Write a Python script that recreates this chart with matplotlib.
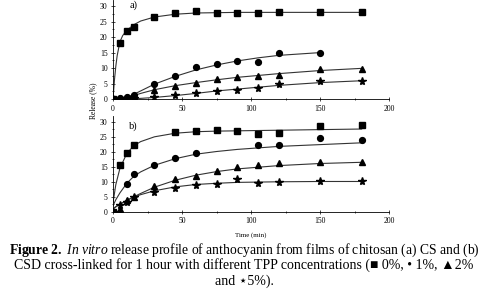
import matplotlib
matplotlib.use("Agg")
import matplotlib.pyplot as plt
from matplotlib.ticker import MultipleLocator

plt.rcParams['font.family'] = ['Liberation Serif', 'DejaVu Sans']
plt.rcParams['mathtext.fontset'] = 'custom'
plt.rcParams['mathtext.rm'] = 'Liberation Serif'
plt.rcParams['mathtext.it'] = 'Liberation Serif:italic'
plt.rcParams['mathtext.bf'] = 'Liberation Serif:bold'

# sampling times (min)
t_a = [0, 5, 10, 15, 30, 45, 60, 75, 90, 105, 120, 150, 180]
t_a1 = [0, 5, 10, 15, 30, 45, 60, 75, 90, 105, 120, 150]

# panel a) CS measured points
a_0 = [0, 18, 22, 23.3, 26.5, 27.8, 28.3, 27.8, 27.8, 27.8, 28.0, 28.0, 28.0]
a_1 = [0, 0.2, 0.8, 1.2, 5.0, 7.5, 10.2, 11.3, 12.2, 11.8, 14.8, 14.8]
a_2 = [0, 0, 0.5, 1.0, 3.0, 4.2, 5.2, 6.5, 7.0, 7.5, 7.9, 9.8, 9.6]
a_5 = [0, 0, 0.2, 0.3, 0.5, 1.2, 1.8, 2.7, 3.0, 3.6, 5.0, 5.7, 5.8]

# panel b) CSD measured points
t_b = [0, 5, 10, 15, 30, 45, 60, 75, 90, 105, 120, 150, 180]
t_b0 = [0, 5, 10, 15, 45, 60, 75, 90, 105, 120, 150, 180]
b_0 = [0, 15.6, 19.5, 22.3, 26.5, 26.9, 27.2, 27.1, 26.1, 26.3, 28.6, 29.0]
t_b1 = [0, 10, 15, 30, 45, 60, 105, 120, 150, 180]
b_1 = [0, 9.2, 12.5, 15.6, 18.0, 19.7, 22.2, 22.3, 24.5, 23.9]
b_2 = [0, 0.8, 3.9, 4.8, 8.6, 10.9, 12.0, 13.6, 14.8, 15.6, 16.1, 16.6, 16.6]
b_5 = [0, 2.2, 3.3, 5.0, 6.7, 7.8, 8.9, 9.2, 10.8, 9.7, 9.9, 10.3, 10.1]

# fitted curves
fa_t0 = [0, 1, 2, 3, 5, 7, 10, 15, 20, 30, 45, 60, 90, 120, 180]
fa_0 = [0, 6, 10.5, 14, 18.5, 20.5, 22.2, 24.0, 25.2, 26.5, 27.4, 27.8, 28.0, 28.0, 28.0]
fa_t1 = [0, 10, 15, 20, 30, 45, 60, 75, 90, 105, 120, 150]
fa_1 = [0, 0.5, 1.5, 2.6, 4.8, 7.3, 9.4, 11.0, 12.3, 13.3, 14.1, 15.0]
fa_t2 = [0, 10, 15, 20, 30, 45, 60, 75, 90, 105, 120, 150, 180]
fa_2 = [0, 0.4, 1.1, 1.8, 3.0, 4.3, 5.3, 6.2, 7.0, 7.6, 8.2, 9.2, 9.9]
fa_t5 = [0, 15, 20, 30, 45, 60, 75, 90, 105, 120, 150, 180]
fa_5 = [0, 0.1, 0.2, 0.5, 1.1, 1.8, 2.6, 3.2, 3.8, 4.4, 5.3, 5.9]

fb_t = [0, 2, 5, 10, 15, 20, 30, 45, 60, 75, 90, 120, 150, 180]
fb_0 = [3.0, 9.0, 14.5, 19.5, 22.0, 23.4, 25.0, 26.2, 26.7, 26.9, 27.0, 27.2, 27.4, 27.6]
fb_1 = [2.0, 4.0, 6.3, 9.5, 11.8, 13.3, 15.5, 17.7, 19.2, 20.1, 20.8, 21.8, 22.4, 23.0]
fb_2 = [1.0, 1.6, 2.5, 3.8, 5.0, 6.1, 8.2, 10.5, 12.2, 13.4, 14.3, 15.4, 16.1, 16.5]
fb_5 = [1.0, 1.7, 2.6, 3.8, 4.9, 5.7, 7.0, 8.3, 9.1, 9.5, 9.8, 10.0, 10.1, 10.1]

fig = plt.figure(figsize=(4.88, 2.97), dpi=100)
ax_a = fig.add_axes([0.2316, 0.6667, 0.566, 0.3333])
ax_b = fig.add_axes([0.2316, 0.287, 0.566, 0.323])

lc = '#333333'
ms = 4.2

ax_a.plot(fa_t0, fa_0, color=lc, lw=0.8)
ax_a.plot(fa_t1, fa_1, color=lc, lw=0.8)
ax_a.plot(fa_t2, fa_2, color=lc, lw=0.8)
ax_a.plot(fa_t5, fa_5, color=lc, lw=0.8)
ax_a.plot(t_a, a_0, 's', color='black', ms=ms)
ax_a.plot(t_a1, a_1, 'o', color='black', ms=ms)
ax_a.plot(t_a, a_2, '^', color='black', ms=ms)
ax_a.plot(t_a, a_5, '*', color='black', ms=ms + 1.6)

ax_b.plot(fb_t, fb_0, color=lc, lw=0.8)
ax_b.plot(fb_t, fb_1, color=lc, lw=0.8)
ax_b.plot(fb_t, fb_2, color=lc, lw=0.8)
ax_b.plot(fb_t, fb_5, color=lc, lw=0.8)
ax_b.plot(t_b0, b_0, 's', color='black', ms=ms)
ax_b.plot(t_b1, b_1, 'o', color='black', ms=ms)
ax_b.plot(t_b, b_2, '^', color='black', ms=ms)
ax_b.plot(t_b, b_5, '*', color='black', ms=ms + 1.6)

for ax, lab, ly in [(ax_a, 'a)', 30.3), (ax_b, 'b)', 28.6)]:
    ax.set_xlim(0, 200)
    ax.set_ylim(0, 32)
    ax.spines['top'].set_visible(False)
    ax.spines['right'].set_visible(False)
    ax.spines['left'].set_linewidth(0.6)
    ax.spines['bottom'].set_linewidth(0.6)
    ax.xaxis.set_major_locator(MultipleLocator(50))
    ax.xaxis.set_minor_locator(MultipleLocator(25))
    ax.yaxis.set_major_locator(MultipleLocator(5))
    ax.yaxis.set_minor_locator(MultipleLocator(2.5))
    ax.tick_params(which='both', direction='inout', width=0.5, labelsize=5.5, pad=2.5)
    ax.tick_params(which='major', length=3)
    ax.tick_params(which='minor', length=2)
    ax.patch.set_alpha(0)
    ax.text(15, ly, lab, fontsize=7.5, ha='center', va='center')

fig.text(0.19, 0.66, 'Release (%)', rotation=90, fontsize=5.5, ha='center', va='center')
fig.text(0.514, 0.209, 'Time (min)', fontsize=5, ha='center', va='center')

fig.text(0.5, 0.158, r'$\mathbf{Figure\ 2.}$ $\mathit{In\ vitro}$ release profile of anthocyanin from films of chitosan (a) CS and (b)',
         fontsize=9.8, ha='center', va='center', family='Liberation Serif')
fig.text(0.5, 0.108, 'CSD cross-linked for 1 hour with different TPP concentrations (\u25a0 0%, \u2022 1%, \u25b22%',
         fontsize=10, ha='center', va='center')
fig.text(0.5, 0.054, 'and \u22c65%).', fontsize=10, ha='center', va='center')

fig.savefig('out.png', dpi=100)
